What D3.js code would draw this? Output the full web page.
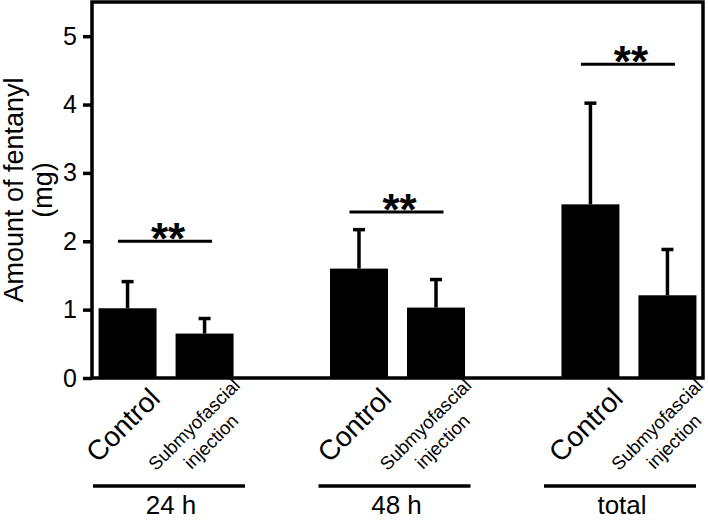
<!doctype html>
<html lang="en">

<head>
    <meta charset="UTF-8">
    <title>Amount of fentanyl</title>
    <script src="https://cdn.jsdelivr.net/npm/d3@7"></script>
    <style>
        body { margin: 0; background: #fff; }
        text { font-family: "Liberation Sans", Arial, sans-serif; fill: #000; }
    </style>
</head>

<body>
    <svg width="708" height="520"></svg>
    <script>
        // data
        const groups = ["24 h", "48 h", "total"];
        const treatments = ["Control", "Submyofascial injection"];
        const controlMean = [1.02, 1.60, 2.54];
        const controlSD = [0.39, 0.57, 1.48];
        const injectionMean = [0.65, 1.03, 1.21];
        const injectionSD = [0.22, 0.41, 0.67];
        const sigLevel = [2.0, 2.43, 4.59];
        const sigMark = ["**", "**", "**"];
        const yTicks = [0, 1, 2, 3, 4, 5];

        const rows = [];
        groups.forEach((g, i) => {
            rows.push({ group: g, treat: treatments[0], mean: controlMean[i], sd: controlSD[i] });
            rows.push({ group: g, treat: treatments[1], mean: injectionMean[i], sd: injectionSD[i] });
        });

        const svg = d3.select("svg");
        const mLeft = 92, mRight = 703, mTop = 2, mBottom = 378;

        const y = d3.scaleLinear().domain([0, 5.5]).range([mBottom, mTop]);
        const x0 = d3.scalePoint().domain(groups).range([mLeft, mRight]).padding(0.32);
        const x1 = d3.scaleBand().domain(treatments).range([-67.5, 67.5]).paddingInner(0.247);
        const xg = d3.scalePoint().domain(groups).range([169, 620]);

        // y axis
        const yAxis = svg.append("g")
            .attr("transform", "translate(" + mLeft + ",0)")
            .call(d3.axisLeft(y).tickValues(yTicks).tickFormat(d3.format("d"))
                .tickSize(9).tickPadding(6).tickSizeOuter(0));
        yAxis.select(".domain").remove();
        yAxis.selectAll(".tick line").attr("stroke", "#000").attr("stroke-width", 3.5);
        yAxis.selectAll(".tick text")
            .style("font-family", "'Liberation Sans', Arial, sans-serif")
            .style("font-size", "25px")
            .attr("fill", "#000");

        // bars
        const bx = d => x0(d.group) + x1(d.treat);
        const cx = d => bx(d) + x1.bandwidth() / 2;

        svg.append("g").selectAll("rect")
            .data(rows)
            .enter().append("rect")
            .attr("x", bx)
            .attr("y", d => y(d.mean))
            .attr("width", x1.bandwidth())
            .attr("height", d => y(0) - y(d.mean))
            .attr("fill", "#000");

        // upper error bars
        const err = svg.append("g").attr("stroke", "#000").attr("stroke-width", 3.5);
        err.selectAll("line.v")
            .data(rows)
            .enter().append("line")
            .attr("class", "v")
            .attr("x1", cx).attr("x2", cx)
            .attr("y1", d => y(d.mean)).attr("y2", d => y(d.mean + d.sd));
        err.selectAll("line.c")
            .data(rows)
            .enter().append("line")
            .attr("class", "c")
            .attr("x1", d => cx(d) - 6).attr("x2", d => cx(d) + 6)
            .attr("y1", d => y(d.mean + d.sd)).attr("y2", d => y(d.mean + d.sd));

        // frame
        svg.append("rect")
            .attr("x", mLeft).attr("y", mTop)
            .attr("width", mRight - mLeft).attr("height", mBottom - mTop)
            .attr("fill", "none").attr("stroke", "#000").attr("stroke-width", 3.5);

        // significance
        const sig = svg.append("g");
        sig.selectAll("line")
            .data(groups)
            .enter().append("line")
            .attr("x1", d => x0(d) - 48).attr("x2", d => x0(d) + 46)
            .attr("y1", (d, i) => y(sigLevel[i])).attr("y2", (d, i) => y(sigLevel[i]))
            .attr("stroke", "#000").attr("stroke-width", 3);
        sig.selectAll("text")
            .data(groups)
            .enter().append("text")
            .attr("x", d => x0(d) + 2)
            .attr("y", (d, i) => y(sigLevel[i]) + 13)
            .attr("text-anchor", "middle")
            .style("font-size", "44px")
            .style("font-weight", "bold")
            .text((d, i) => sigMark[i]);

        // treatment labels
        const lab = svg.append("g");
        lab.selectAll("text.ctrl")
            .data(rows.filter(d => d.treat === treatments[0]))
            .enter().append("text")
            .attr("class", "ctrl")
            .attr("transform", d => "translate(" + (cx(d) + 34) + "," + (mBottom + 22) + ") rotate(-45)")
            .attr("text-anchor", "end")
            .style("font-size", "28px")
            .text(d => d.treat);

        const inj = lab.selectAll("text.inj")
            .data(rows.filter(d => d.treat === treatments[1]))
            .enter().append("text")
            .attr("class", "inj")
            .attr("transform", d => "translate(" + (cx(d) - 6) + "," + (mBottom + 51) + ") rotate(-45)")
            .attr("text-anchor", "middle")
            .style("font-size", "18.5px");
        inj.append("tspan").attr("x", 0).attr("dy", 0).text(d => d.treat.split(" ")[0]);
        inj.append("tspan").attr("x", 0).attr("dy", "1.3em").text(d => d.treat.split(" ")[1]);

        // group labels
        svg.append("g").selectAll("line")
            .data(groups)
            .enter().append("line")
            .attr("x1", d => xg(d) - 76).attr("x2", d => xg(d) + 76)
            .attr("y1", 486).attr("y2", 486)
            .attr("stroke", "#000").attr("stroke-width", 3.5);
        svg.append("g").selectAll("text")
            .data(groups)
            .enter().append("text")
            .attr("x", d => xg(d) + 2)
            .attr("y", 514)
            .attr("text-anchor", "middle")
            .style("font-size", "26px")
            .text(d => d);

        // y title
        svg.append("text")
            .attr("transform", "translate(23,190) rotate(-90)")
            .attr("text-anchor", "middle")
            .style("font-size", "27px")
            .selectAll("tspan")
            .data(["Amount of fentanyl", "(mg)"])
            .enter().append("tspan")
            .attr("x", 0)
            .attr("dy", (d, i) => i === 0 ? 0 : 29)
            .text(d => d);
    </script>
</body>

</html>
